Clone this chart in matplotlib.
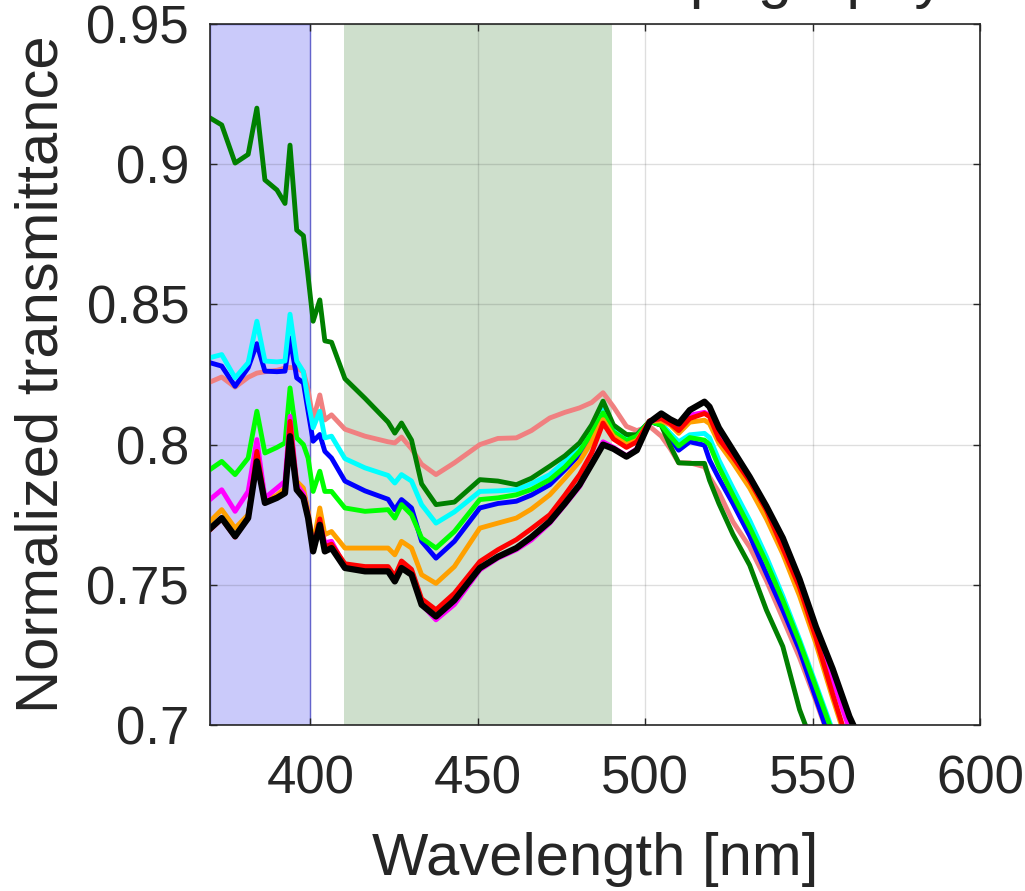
import matplotlib
matplotlib.use("Agg")
import matplotlib.pyplot as plt

# wavelength sample points [nm]
wl = [370, 373.5, 377.5, 381.4, 384, 386.4, 390, 392.4, 393.9, 395.9,
      397.9, 399.3, 400.8, 402.8, 404.3, 406.3, 410.3, 416.3, 423.2, 425.2,
      427.2, 430.2, 433.2, 437.5, 443, 450.6, 456, 461.5, 466, 471.5,
      476, 480.4, 484, 487.4, 490.5, 494.4, 497.5, 501.3, 504.8, 507.5,
      510, 513.3, 517.7, 519.2, 522, 526.2, 531.2, 536.2, 541.1, 546.1,
      551, 556, 561, 566]

salmon = [0.8223, 0.8241, 0.8205, 0.824, 0.8255, 0.826, 0.8265, 0.8273, 0.8275, 0.8273,
          0.826, 0.8195, 0.8088, 0.8177, 0.8088, 0.8106, 0.8055, 0.803, 0.801, 0.8006,
          0.8027, 0.7985, 0.793, 0.7893, 0.7935, 0.800, 0.8022, 0.8024, 0.805, 0.8095,
          0.8115, 0.8131, 0.815, 0.8185, 0.8135, 0.8065, 0.805, 0.8065, 0.803, 0.7985,
          0.7935, 0.7935, 0.7921, 0.7885, 0.783, 0.7725, 0.7635, 0.7515, 0.738, 0.724,
          0.7085, 0.692, 0.675, 0.66]

blue = [0.8292, 0.828, 0.8208, 0.8274, 0.836, 0.8262, 0.826, 0.8262, 0.838, 0.8238,
        0.822, 0.8119, 0.8012, 0.8036, 0.7976, 0.7952, 0.787, 0.7835, 0.7805, 0.7768,
        0.7804, 0.7774, 0.7655, 0.7595, 0.7655, 0.7774, 0.779, 0.7798, 0.782, 0.7857,
        0.791, 0.7964, 0.803, 0.8101, 0.804, 0.801, 0.8025, 0.8083, 0.807, 0.802,
        0.798, 0.801, 0.7998, 0.7945, 0.788, 0.779, 0.7675, 0.754, 0.741, 0.7267,
        0.7095, 0.692, 0.676, 0.66]

cyan = [0.831, 0.8321, 0.8238, 0.8292, 0.844, 0.8298, 0.8295, 0.8298, 0.8465, 0.8298,
        0.826, 0.8155, 0.806, 0.8119, 0.8024, 0.803, 0.795, 0.7917, 0.789, 0.7863,
        0.7893, 0.787, 0.7786, 0.772, 0.776, 0.7833, 0.7835, 0.7839, 0.786, 0.7893,
        0.794, 0.7988, 0.805, 0.8125, 0.8055, 0.8024, 0.8035, 0.8083, 0.8075, 0.804,
        0.801, 0.8035, 0.804, 0.8025, 0.7945, 0.7845, 0.773, 0.760, 0.746, 0.7305,
        0.7145, 0.698, 0.681, 0.665]

darkgreen = [0.9165, 0.914, 0.9004, 0.9035, 0.920, 0.8944, 0.8908, 0.886, 0.9068, 0.8765,
             0.8745, 0.86, 0.844, 0.8516, 0.837, 0.8365, 0.8235, 0.8165, 0.808, 0.8041,
             0.8077, 0.8016, 0.786, 0.7786, 0.7795, 0.7875, 0.787, 0.7857, 0.788, 0.7923,
             0.796, 0.8006, 0.807, 0.8155, 0.807, 0.8036, 0.8035, 0.8083, 0.8069, 0.7995,
             0.7935, 0.7933, 0.7933, 0.7873, 0.779, 0.768, 0.757, 0.741, 0.728, 0.7055,
             0.69, 0.675, 0.66, 0.645]

lime = [0.7911, 0.794, 0.7893, 0.7952, 0.8119, 0.797, 0.799, 0.8006, 0.8202, 0.8024,
        0.800, 0.7952, 0.7833, 0.7905, 0.7833, 0.7833, 0.7774, 0.7762, 0.7768, 0.7738,
        0.7786, 0.775, 0.7667, 0.7631, 0.769, 0.7804, 0.781, 0.7821, 0.784, 0.7875,
        0.792, 0.7976, 0.804, 0.8113, 0.8045, 0.8015, 0.803, 0.8083, 0.807, 0.803,
        0.7995, 0.8025, 0.8016, 0.800, 0.792, 0.782, 0.7705, 0.758, 0.7445, 0.7295,
        0.7135, 0.697, 0.68, 0.665]

orange = [0.7726, 0.7768, 0.7702, 0.775, 0.7952, 0.7798, 0.782, 0.7845, 0.8071, 0.7869,
          0.7845, 0.7762, 0.7643, 0.7774, 0.7679, 0.769, 0.7631, 0.7631, 0.7631, 0.7607,
          0.7655, 0.7631, 0.7536, 0.7505, 0.7565, 0.7702, 0.772, 0.7738, 0.777, 0.7821,
          0.788, 0.794, 0.801, 0.8089, 0.803, 0.800, 0.8015, 0.8083, 0.8085, 0.807,
          0.804, 0.808, 0.8087, 0.8075, 0.8005, 0.7935, 0.7845, 0.7735, 0.761, 0.746,
          0.729, 0.7095, 0.691, 0.675]

magenta = [0.7804, 0.7839, 0.7762, 0.7833, 0.8018, 0.781, 0.7845, 0.7869, 0.8101, 0.7857,
           0.7825, 0.775, 0.763, 0.772, 0.765, 0.7655, 0.7565, 0.755, 0.755, 0.7515,
           0.7565, 0.754, 0.743, 0.7375, 0.743, 0.7553, 0.7595, 0.7625, 0.766, 0.772,
           0.7785, 0.785, 0.793, 0.801, 0.799, 0.796, 0.7985, 0.8082, 0.8095, 0.8075,
           0.806, 0.8105, 0.8115, 0.8105, 0.8035, 0.797, 0.788, 0.7775, 0.765, 0.751,
           0.734, 0.716, 0.6985, 0.685]

red = [0.7696, 0.7735, 0.767, 0.774, 0.7976, 0.7795, 0.7812, 0.783, 0.8083, 0.7845,
       0.7815, 0.7745, 0.7625, 0.7735, 0.7635, 0.7645, 0.7575, 0.7565, 0.7565, 0.753,
       0.7585, 0.7555, 0.745, 0.7411, 0.747, 0.7583, 0.7625, 0.7661, 0.770, 0.775,
       0.782, 0.7893, 0.797, 0.8077, 0.802, 0.799, 0.801, 0.8085, 0.8093, 0.8075,
       0.805, 0.8093, 0.8111, 0.810, 0.802, 0.7955, 0.787, 0.7766, 0.763, 0.749,
       0.731, 0.711, 0.692, 0.68]

black = [0.770, 0.7738, 0.7673, 0.7738, 0.794, 0.7792, 0.781, 0.7827, 0.803, 0.7839,
         0.781, 0.7738, 0.7619, 0.7714, 0.7619, 0.7631, 0.756, 0.7548, 0.7548, 0.7512,
         0.756, 0.7536, 0.7429, 0.7387, 0.7445, 0.756, 0.760, 0.7631, 0.767, 0.7726,
         0.779, 0.7857, 0.793, 0.800, 0.7985, 0.7957, 0.798, 0.808, 0.8111, 0.809,
         0.8075, 0.8123, 0.8153, 0.8135, 0.806, 0.798, 0.7885, 0.778, 0.7667, 0.752,
         0.735, 0.720, 0.703, 0.69]

series = [
    (salmon, "#F08080", 3.5),
    (blue, "#0000FF", 3.5),
    (cyan, "#00FFFF", 3.5),
    (darkgreen, "#008000", 3.5),
    (lime, "#00FF00", 3.5),
    (orange, "#FFA000", 3.5),
    (magenta, "#FF00FF", 3.5),
    (red, "#FF0000", 3.5),
    (black, "#000000", 4.5),
]

txt = "#262626"
plt.rcParams["font.family"] = ["Liberation Sans", "DejaVu Sans"]

fig = plt.figure(figsize=(10.25, 8.91), dpi=100)
ax = fig.add_axes([210 / 1025, 1 - 725 / 891, 770 / 1025, 701 / 891])

# shaded bands
ax.axvspan(370, 400, facecolor="#CACAFA", edgecolor="#7070E8", linewidth=1.0, zorder=0.5)
ax.axvspan(410, 490, facecolor="#CEDFCC", edgecolor="none", zorder=0.5)

for vals, col, lw in series:
    ax.plot(wl, vals, color=col, linewidth=lw, solid_joinstyle="round")

ax.set_xlim(370, 600)
ax.set_ylim(0.7, 0.95)
ax.set_xticks([400, 450, 500, 550, 600])
ax.set_yticks([0.7, 0.75, 0.8, 0.85, 0.9, 0.95])
ax.set_yticklabels(["0.7", "0.75", "0.8", "0.85", "0.9", "0.95"])
ax.grid(True, color=txt, alpha=0.15, linewidth=1.0)

ax.tick_params(direction="in", length=5, width=1.0, colors=txt, labelsize=38,
               top=True, right=True)
ax.tick_params(axis="y", pad=15)
ax.tick_params(axis="x", pad=21)
for sp in ax.spines.values():
    sp.set_color(txt)
    sp.set_linewidth(1.2)

ax.set_xlabel("Wavelength [nm]", fontsize=43, color=txt, labelpad=20)
ax.set_ylabel("Normalized transmittance", fontsize=43, color=txt, labelpad=12)

# title sits mostly above the canvas, only descenders visible
fig.text(946 / 1025, 1 + 4 / 891, "Topography", ha="right", va="baseline",
         fontsize=44, color=txt)

fig.savefig("out.png", dpi=100)
